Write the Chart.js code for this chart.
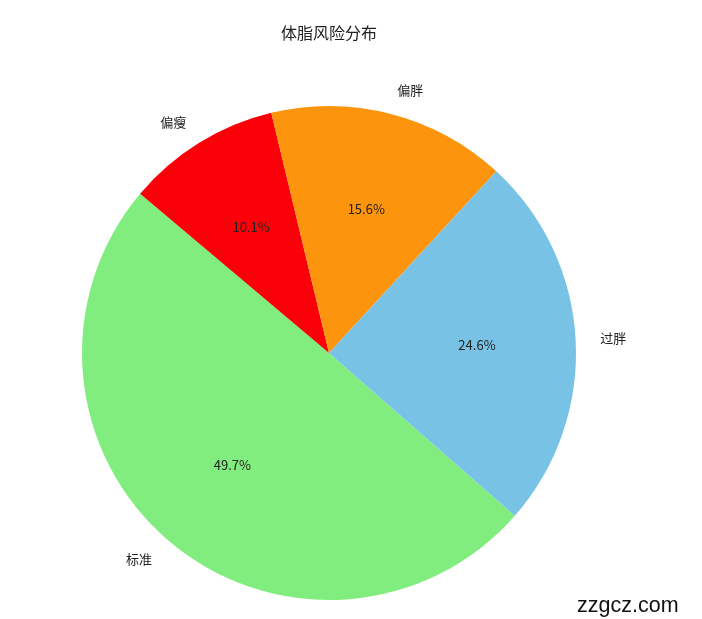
<!DOCTYPE html>
<html>
<head>
<meta charset="utf-8">
<script src="https://cdn.jsdelivr.net/npm/chart.js@4"></script>
<style>
    body { margin: 0; background: #fff; }
    #wrap { position: relative; width: 702px; height: 619px; }
    #mark { position: absolute; left: 577px; top: 593px; font: 21.5px "Liberation Sans", Arial, sans-serif; color: #111; }
</style>
</head>
<body>
<div id="wrap">
    <canvas id="myPieChart" width="702" height="619"></canvas>
    <div id="mark">zzgcz.com</div>
</div>
<script>
// 按顺时针顺序 (从右下开始)
var labels = ['标准', '偏瘦', '偏胖', '过胖'];
var values = [49.7, 10.1, 15.6, 24.6];
var colors = ['#82ed7f', '#fa0008', '#fd940e', '#78c3e5'];
var title = '体脂风险分布';

var fontFamily = '"Noto Sans CJK SC", "Noto Sans", sans-serif';

// 画外侧标签和百分比
var pieLabels = {
    id: 'pieLabels',
    afterDraw: function (chart) {
        var ctx = chart.ctx;
        var arcs = chart.getDatasetMeta(0).data;
        var total = values.reduce(function (a, b) { return a + b; }, 0);
        ctx.save();
        ctx.fillStyle = '#222';
        ctx.textBaseline = 'middle';
        arcs.forEach(function (arc, i) {
            var mid = (arc.startAngle + arc.endAngle) / 2;
            var r = arc.outerRadius;
            var cx = Math.cos(mid), cy = Math.sin(mid);
            // 百分比
            ctx.font = '13px ' + fontFamily;
            ctx.textAlign = 'center';
            ctx.fillText((values[i] / total * 100).toFixed(1) + '%', arc.x + cx * r * 0.6, arc.y + cy * r * 0.6);
            // 标签
            ctx.textAlign = cx >= 0 ? 'left' : 'right';
            ctx.fillText(labels[i], arc.x + cx * r * 1.1, arc.y + cy * r * 1.1);
        });
        ctx.font = '16px ' + fontFamily;
        ctx.textAlign = 'center';
        ctx.fillText(title, 329, 33);
        ctx.restore();
    }
};

var ctx = document.getElementById('myPieChart').getContext('2d');
var myPieChart = new Chart(ctx, {
    type: 'pie',
    data: {
        labels: labels,
        datasets: [{
            data: values,
            backgroundColor: colors,
            borderWidth: 0
        }]
    },
    options: {
        responsive: false,
        animation: false,
        rotation: 131.2,
        layout: { padding: { left: 82, right: 126, top: 106, bottom: 19 } },
        plugins: {
            legend: { display: false },
            tooltip: { enabled: false }
        }
    },
    plugins: [pieLabels]
});
</script>
</body>
</html>
